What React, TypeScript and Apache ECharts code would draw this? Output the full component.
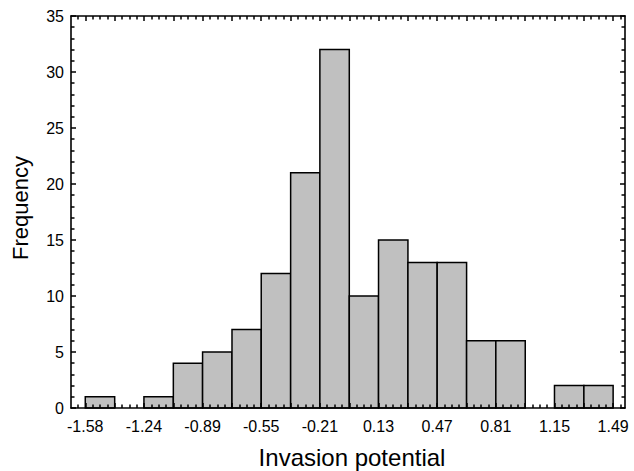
import React, { useEffect, useRef } from "react";
import * as echarts from "echarts";

// Histogram bin edges (Invasion potential)
const binEdges = [
  -1.577, -1.406, -1.236, -1.065, -0.895, -0.724, -0.554, -0.383, -0.213,
  -0.042, 0.128, 0.299, 0.469, 0.64, 0.81, 0.981, 1.151, 1.322, 1.492,
];
// Frequency in each bin
const counts = [1, 0, 1, 4, 5, 7, 12, 21, 32, 10, 15, 13, 13, 6, 6, 0, 2, 2];
// Tick labels shown at every other bin edge
const tickLabels = [
  "-1.58", "-1.24", "-0.89", "-0.55", "-0.21", "0.13", "0.47", "0.81", "1.15", "1.49",
];
const xMin = -1.66;
const xMax = 1.561;
const yMin = 0;
const yMax = 35;
const yStep = 5;

const FONT = "'Liberation Sans', Arial, sans-serif";

export default function App() {
  const ref = useRef<HTMLDivElement>(null);
  useEffect(() => {
    const chart = echarts.init(ref.current!, null, { renderer: "svg" });
    const labelPositions = binEdges.filter((_, i) => i % 2 === 0);
    const w0 = binEdges[1] - binEdges[0];
    const minorPositions: number[] = [binEdges[0] - w0 / 4];
    for (let i = 0; i < binEdges.length - 1; i++) {
      const a = binEdges[i];
      const b = binEdges[i + 1];
      for (let k = 1; k < 4; k++) minorPositions.push(a + ((b - a) * k) / 4);
    }
    minorPositions.push(binEdges[binEdges.length - 1] + w0 / 4);

    const labelFor = (v: number) => {
      let best = 0;
      let bd = Infinity;
      labelPositions.forEach((p, i) => {
        const d = Math.abs(p - v);
        if (d < bd) {
          bd = d;
          best = i;
        }
      });
      return tickLabels[best];
    };

    const axisLineStyle = () => ({ color: "#000", width: 1.6 });
    const tickStyle = () => ({ color: "#000", width: 1.5 });
    const baseX = () => ({
      type: "value" as const,
      min: xMin,
      max: xMax,
      splitLine: { show: false },
      z: 10,
    });

    const option: any = {
      animation: false,
      backgroundColor: "#fff",
      grid: {
        left: 71,
        right: 9,
        top: 16,
        bottom: 63,
        containLabel: false,
        outerBoundsMode: "none",
      },
      xAxis: [
        {
          ...baseX(),
          position: "bottom",
          axisLine: { show: true, onZero: false, lineStyle: axisLineStyle() },
          axisTick: {
            show: true,
            inside: true,
            length: 5,
            lineStyle: tickStyle(),
            customValues: binEdges,
          },
          axisLabel: {
            show: true,
            customValues: labelPositions,
            formatter: (v: number) => labelFor(v),
            color: "#000",
            fontFamily: FONT,
            fontSize: 16,
            margin: 10,
          },
          name: "Invasion potential",
          nameLocation: "middle",
          nameGap: 37,
          nameTextStyle: {
            color: "#000",
            fontFamily: FONT,
            fontSize: 24,
            padding: [0, 0, 0, 8],
          },
        },
        {
          ...baseX(),
          position: "bottom",
          axisLine: { show: false, onZero: false },
          axisTick: {
            show: true,
            inside: true,
            length: 3.5,
            lineStyle: tickStyle(),
            customValues: minorPositions,
          },
          axisLabel: { show: false },
        },
        {
          ...baseX(),
          position: "top",
          axisLine: { show: true, onZero: false, lineStyle: axisLineStyle() },
          axisTick: {
            show: true,
            inside: true,
            length: 5,
            lineStyle: tickStyle(),
            customValues: binEdges,
          },
          axisLabel: { show: false },
        },
        {
          ...baseX(),
          position: "top",
          axisLine: { show: false, onZero: false },
          axisTick: {
            show: true,
            inside: true,
            length: 3.5,
            lineStyle: tickStyle(),
            customValues: minorPositions,
          },
          axisLabel: { show: false },
        },
      ],
      yAxis: [
        {
          type: "value",
          position: "left",
          min: yMin,
          max: yMax,
          interval: yStep,
          z: 10,
          axisLine: { show: true, onZero: false, lineStyle: axisLineStyle() },
          axisTick: { show: true, inside: true, length: 5, lineStyle: tickStyle() },
          minorTick: { show: true, splitNumber: 5, length: 3.5, lineStyle: tickStyle() },
          splitLine: { show: false },
          axisLabel: {
            color: "#000",
            fontFamily: FONT,
            fontSize: 16,
            margin: 7,
          },
          name: "Frequency",
          nameLocation: "middle",
          nameGap: 40,
          nameTextStyle: {
            color: "#000",
            fontFamily: FONT,
            fontSize: 22,
            padding: [0, 0, 0, 8],
          },
        },
        {
          type: "value",
          position: "right",
          min: yMin,
          max: yMax,
          interval: yStep,
          z: 10,
          axisLine: { show: true, onZero: false, lineStyle: axisLineStyle() },
          axisTick: { show: true, inside: true, length: 5, lineStyle: tickStyle() },
          minorTick: { show: true, splitNumber: 5, length: 3.5, lineStyle: tickStyle() },
          splitLine: { show: false },
          axisLabel: { show: false },
        },
      ],
      series: [
        {
          type: "custom",
          xAxisIndex: 0,
          yAxisIndex: 0,
          encode: { x: [0, 1], y: 2 },
          data: counts.map((c, i) => [binEdges[i], binEdges[i + 1], c]),
          renderItem: (_params: any, api: any) => {
            const x0 = api.value(0);
            const x1 = api.value(1);
            const y = api.value(2);
            if (!y) return null;
            const p0 = api.coord([x0, y]);
            const p1 = api.coord([x1, 0]);
            return {
              type: "rect",
              shape: {
                x: p0[0],
                y: p0[1],
                width: p1[0] - p0[0],
                height: p1[1] - p0[1],
              },
              style: { fill: "#c0c0c0", stroke: "#000", lineWidth: 1.5 },
            };
          },
        },
      ],
    };
    chart.setOption(option);
    return () => chart.dispose();
  }, []);
  return (
    <div
      ref={ref}
      style={{ position: "fixed", left: 0, top: 0, width: 634, height: 471, background: "#fff" }}
    />
  );
}
